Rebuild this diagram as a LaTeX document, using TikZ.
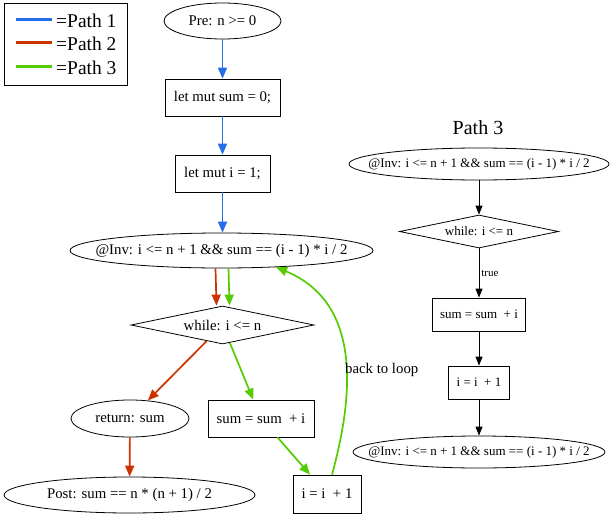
\documentclass[tikz,border=0pt]{standalone}
\usepackage{fontspec}
\setmainfont{Liberation Serif}
\usetikzlibrary{shapes.geometric,arrows.meta}
\definecolor{pblue}{RGB}{38,110,232}
\definecolor{pred}{RGB}{204,51,0}
\definecolor{pgreen}{RGB}{85,204,0}
\begin{document}
\begin{tikzpicture}[x=1pt,y=-1pt,
 every node/.style={inner sep=0pt, font=\fontsize{14.8}{16}\selectfont},
 oval/.style={draw, ellipse, line width=0.8pt},
 boxnode/.style={draw, rectangle, line width=0.8pt},
 dia/.style={draw, diamond, aspect=4.8, line width=0.8pt},
 carrow/.style={line width=1.7pt, -{Triangle[length=11pt,width=9pt]}},
 karrow/.style={line width=0.8pt, -{Triangle[length=9pt,width=7pt]}},
 small/.style={font=\fontsize{13}{14}\selectfont},
 legtext/.style={anchor=west, font=\fontsize{19.5}{21}\selectfont}]
\useasboundingbox (0,0) rectangle (612,516);

% legend
\node[draw, line width=1pt, minimum width=123, minimum height=82, anchor=north west] (legend) at (4,3) {};
\coordinate (l1a) at (16,20); \coordinate (l1b) at (52,20);
\coordinate (l2a) at (16,43); \coordinate (l2b) at (52,43);
\coordinate (l3a) at (16,67); \coordinate (l3b) at (52,67);
\draw[pblue, line width=3pt] (l1a) -- (l1b);
\draw[pred, line width=3pt] (l2a) -- (l2b);
\draw[pgreen, line width=3pt] (l3a) -- (l3b);
\node[legtext] (t1) at (56,20.5) {=Path 1};
\node[legtext] (t2) at (56,44) {=Path 2};
\node[legtext] (t3) at (56,68) {=Path 3};

% left flow
\node[oval, minimum width=117, minimum height=36] (pre) at (222.5,21) {\makebox[0pt]{Pre: n >= 0}};
\node[boxnode, minimum width=115, minimum height=37] (s0) at (222.5,97.5) {let mut sum = 0;};
\node[boxnode, minimum width=95, minimum height=37] (i0) at (222.5,173.5) {let mut i = 1;};
\node[oval, minimum width=303, minimum height=35] (inv) at (221.5,250.5) {\makebox[0pt]{@Inv: i <= n + 1 \&\& sum == (i - 1) * i / 2}};
\node[dia, minimum width=183, minimum height=38] (wh) at (222.5,325) {while: i <= n};
\node[oval, minimum width=118, minimum height=37] (ret) at (130,418.5) {\makebox[0pt]{return: sum}};
\node[boxnode, minimum width=106, minimum height=37] (sb) at (261,418.5) {sum = sum\ \ + i};
\node[oval, minimum width=251, minimum height=36] (post) at (129.5,495) {\makebox[0pt]{Post: sum == n * (n + 1) / 2}};
\node[boxnode, minimum width=68, minimum height=38] (ib) at (327,494) {i = i\ \ + 1};

\draw[carrow, pblue] (pre) -- (s0);
\draw[carrow, pblue] (s0) -- (i0);
\draw[carrow, pblue] (i0.south) -- (i0.south |- inv.north);
\draw[carrow, pred] ([xshift=-6pt]inv.south) -- ([xshift=-6pt]wh.north);
\draw[carrow, pgreen] ([xshift=7pt]inv.south) -- ([xshift=7pt]wh.north);
\draw[carrow, pred] (wh) -- (ret);
\draw[carrow, pgreen] (wh) -- (sb);
\draw[carrow, pred] (ret) -- (post);
\draw[carrow, pgreen] (sb) -- (ib);
\draw[carrow, pgreen] ([xshift=5pt]ib.north) .. controls (358,380) and (355,300) .. (inv.-17)
  node[pos=0.4, anchor=west, xshift=-2pt, text=black] (bl) {back to loop};

% right: Path 3
\node[font=\fontsize{20}{22}\selectfont] (title) at (478,128) {Path 3};
\node[oval, small, minimum width=260, minimum height=32] (rinv) at (479,164) {\makebox[0pt]{@Inv: i <= n + 1 \&\& sum == (i - 1) * i / 2}};
\node[dia, small, minimum width=159, minimum height=33] (rwh) at (479,231.5) {while: i <= n};
\node[boxnode, small, minimum width=93, minimum height=33] (rsb) at (479,314.5) {sum = sum\ \ + i};
\node[boxnode, small, minimum width=61, minimum height=33] (rib) at (479,382.5) {i = i\ \ + 1};
\node[oval, small, minimum width=252, minimum height=32] (rinv2) at (479,452) {\makebox[0pt]{@Inv: i <= n + 1 \&\& sum == (i - 1) * i / 2}};

\draw[karrow] (rinv) -- (rwh);
\draw[karrow] (rwh) -- (rsb) node[pos=0.5, anchor=west, xshift=2pt, font=\fontsize{11}{12}\selectfont] (tl) {true};
\draw[karrow] (rsb) -- (rib);
\draw[karrow] (rib) -- (rinv2);
\end{tikzpicture}
\end{document}
